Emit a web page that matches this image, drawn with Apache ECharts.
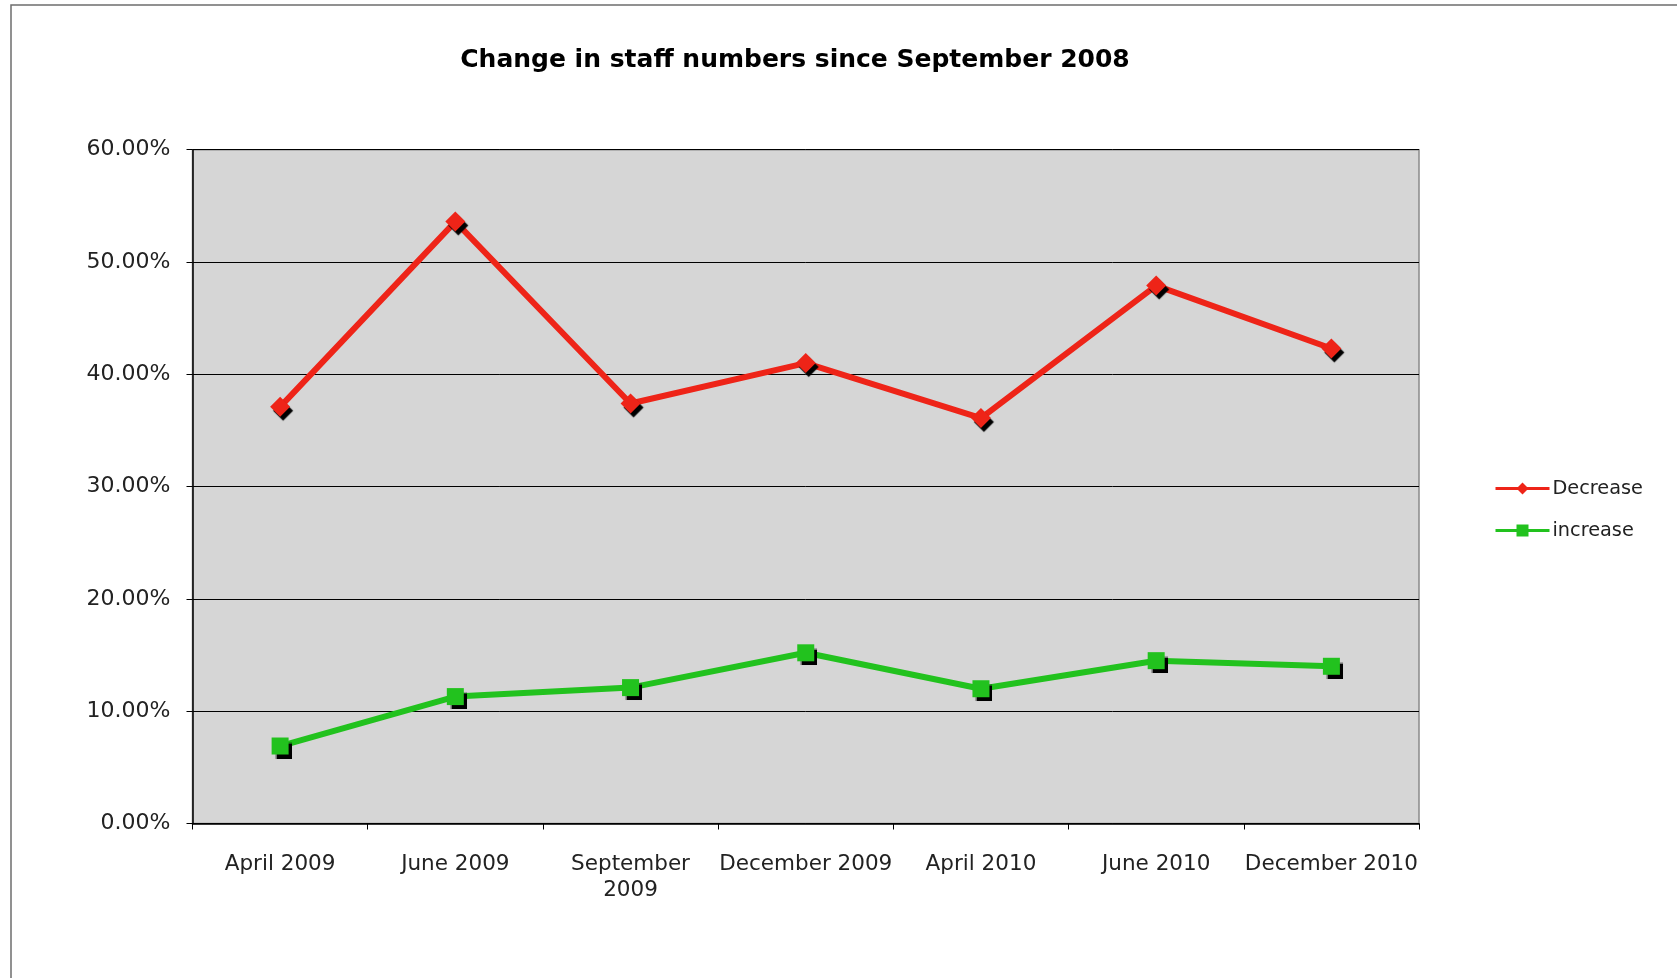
<!DOCTYPE html>
<html>
<head>
<meta charset="utf-8">
<script src="https://cdn.jsdelivr.net/npm/echarts@6/dist/echarts.min.js"></script>
<style>
html,body{margin:0;padding:0;background:#fff;}
#chart{width:1677px;height:978px;}
</style>
</head>
<body>
<div id="chart"></div>
<script>
const titleText = 'Change in staff numbers since September 2008';
const categories = ['April 2009','June 2009','September 2009','December 2009','April 2010','June 2010','December 2010'];
const decreaseValues = [37.1, 53.6, 37.4, 41.0, 36.1, 47.9, 42.3];
const increaseValues = [6.9, 11.3, 12.1, 15.2, 12.0, 14.5, 14.0];
const seriesNames = ['Decrease','increase'];

const chart = echarts.init(document.getElementById('chart'), null, {renderer:'canvas'});
const font = 'DejaVu Sans, Verdana, sans-serif';
chart.setOption({
  backgroundColor:'#ffffff',
  animation:false,
  graphic:[
    {type:'rect', shape:{x:11,y:5,width:1700,height:1000}, style:{fill:'none', stroke:'#6e6e6e', lineWidth:1.5}, silent:true}
  ],
  title:{
    text:titleText, left:790, top:43, textAlign:'center',
    textStyle:{fontFamily:font, fontWeight:'bold', fontSize:25, color:'#000'}
  },
  legend:{
    orient:'vertical', left:1489, top:474, itemWidth:54, itemHeight:15, itemGap:23,
    textStyle:{fontFamily:font, fontSize:19.3, color:'#222', padding:[0,0,0,-2]},
    lineStyle:{width:3},
    data:seriesNames
  },
  grid:{left:192.5, right:258, top:149.7, bottom:154.5, show:true, backgroundColor:'#d6d6d6', borderColor:'#8a8a8a', borderWidth:1.5},
  xAxis:{
    type:'category', data:categories, boundaryGap:true,
    axisLine:{lineStyle:{color:'#000', width:1.5}},
    axisTick:{show:true, length:6, lineStyle:{color:'#000'}},
    axisLabel:{fontFamily:font, fontSize:21.5, color:'#222', margin:28, interval:0, lineHeight:26,
      formatter:v=>v.length>13 ? v.replace(' ','\n') : v}
  },
  yAxis:{
    type:'value', min:0, max:60, interval:10,
    axisLine:{show:true, lineStyle:{color:'#000', width:1.5}},
    axisTick:{show:true, length:6, lineStyle:{color:'#000'}},
    splitLine:{show:true, lineStyle:{color:'#000', width:1}},
    axisLabel:{fontFamily:font, fontSize:22, color:'#222', margin:22, formatter:v=>v.toFixed(2)+'%'}
  },
  series:[
    {name:seriesNames[0], type:'line', data:decreaseValues, symbol:'diamond', symbolSize:20,
     lineStyle:{color:'#ee2418', width:6},
     itemStyle:{color:'#ee2418', shadowColor:'#000', shadowBlur:1, shadowOffsetX:3, shadowOffsetY:4}},
    {name:seriesNames[1], type:'line', data:increaseValues, symbol:'rect', symbolSize:17,
     lineStyle:{color:'#22c21e', width:6},
     itemStyle:{color:'#22c21e', shadowColor:'#000', shadowBlur:1, shadowOffsetX:3, shadowOffsetY:4}}
  ]
});
</script>
</body>
</html>
